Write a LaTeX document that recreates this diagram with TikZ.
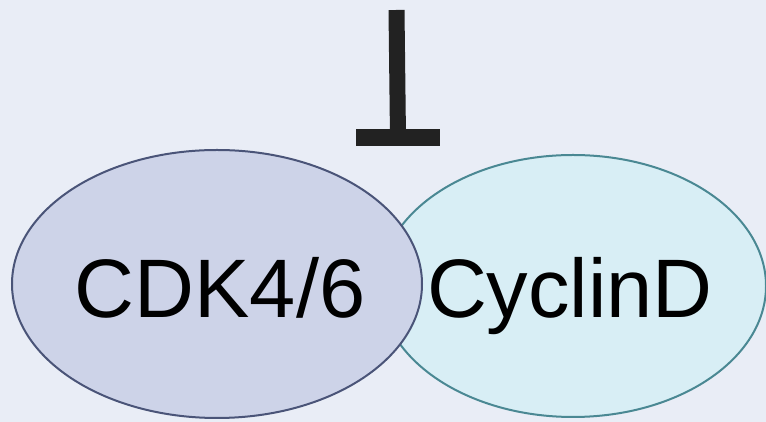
\documentclass[tikz,border=0pt]{standalone}
\usepackage{fontspec}
\setmainfont{Liberation Sans}
\usetikzlibrary{shapes.geometric}
\definecolor{bg}{HTML}{E9EDF6}
\definecolor{cdkfill}{HTML}{CDD3E8}
\definecolor{cdkline}{HTML}{4A5478}
\definecolor{cycfill}{HTML}{D8EEF5}
\definecolor{cycline}{HTML}{4A8893}
\definecolor{inhcol}{HTML}{222222}
\tikzset{
  blob/.style={ellipse, inner sep=0pt, line width=2pt},
  lbl/.style={anchor=base, inner sep=0pt, font=\fontsize{83}{100}\selectfont, text=black},
  inhline/.style={line width=16pt, draw=inhcol},
  inhbar/.style={fill=inhcol, inner sep=0pt, minimum width=84pt, minimum height=17pt}
}
\begin{document}
\begin{tikzpicture}[x=1pt,y=1pt]
\fill[bg] (0,0) rectangle (766,422);
\useasboundingbox (0,0) rectangle (766,422);
\node[blob, draw=cycline, fill=cycfill, minimum width=386pt, minimum height=262pt] (cyc) at (573,136) {};
\node[blob, draw=cdkline, fill=cdkfill, minimum width=410pt, minimum height=268pt] (cdk) at (217,138) {};
\node[lbl] (cdklbl) at (220,104) {CDK4/6};
\node[lbl] (cyclbl) at (570,104) {CyclinD};
\coordinate (src) at (396.5,412);
\node[inhbar] (bar) at (398,284.5) {};
\draw[inhline] (src) -- (bar.center);
\end{tikzpicture}
\end{document}
